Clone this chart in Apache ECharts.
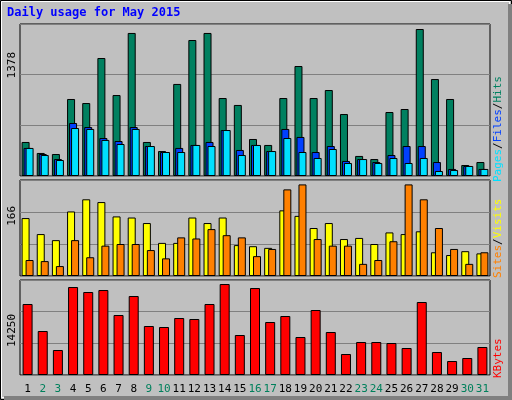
<!DOCTYPE html>
<html><head><meta charset="utf-8">
<script src="https://cdn.jsdelivr.net/npm/echarts@6/dist/echarts.min.js"></script>
<style>html,body{margin:0;padding:0;background:#c0c0c0}#c{width:512px;height:400px}</style>
</head><body><div id="c"></div>
<script>
const days=['1','2','3','4','5','6','7','8','9','10','11','12','13','14','15','16','17','18','19','20','21','22','23','24','25','26','27','28','29','30','31'];
const weekend=['2','3','9','10','16','17','23','24','30','31'];
const hits=[319,216,206,722,684,1106,759,1341,319,234,863,1275,1341,731,666,347,291,731,1031,731,806,581,188,159,600,628,1378,909,722,103,131];
const files=[263,206,159,497,459,356,328,459,281,225,263,291,319,431,244,291,234,441,366,225,281,141,159,131,197,281,281,131,66,94,66];
const pages=[263,197,150,450,441,338,300,441,281,225,225,291,281,431,197,291,234,356,225,169,253,122,159,122,169,122,169,47,56,94,66];
const visits=[105,76,65,117,139,134,108,106,96,60,60,106,96,106,56,54,51,119,109,87,96,67,69,58,79,76,81,43,38,45,41];
const sites=[29,27,18,65,34,55,58,58,47,32,70,68,85,74,70,36,49,157,166,67,55,55,22,29,63,166,139,87,49,22,43];
const kbytes=[11119,6890,3915,13781,12998,13311,9396,12371,7673,7517,8926,8770,11119,14250,6264,13624,8300,9239,5951,10179,6734,3289,5168,5168,5011,4228,11432,3602,2192,2662,4385];
const maxLabels=['1378','166','14250'];
const F='DejaVu Sans Mono';
const ch=echarts.init(document.getElementById('c'));
const grids=[{left:20,width:470,top:24,height:152},{left:20,width:470,top:180,height:96},{left:20,width:470,top:280,height:95}];
const maxes=[1425,174,14880];
const bs=c=>({color:c,borderColor:'#000',borderWidth:1});
ch.setOption({
 backgroundColor:'#c0c0c0',animation:false,
 grid:grids.map(g=>Object.assign({show:true,backgroundColor:'#c0c0c0',borderColor:'#000',borderWidth:1},g)),
 xAxis:[0,1,2].map(i=>({type:'category',gridIndex:i,data:days,axisTick:{show:false},axisLine:{show:false},
   axisLabel:{show:i===2,fontFamily:F,fontSize:11,margin:9,interval:0,color:(v)=>weekend.includes(v)?'#00805c':'#000'}})),
 yAxis:[0,1,2].map(i=>({type:'value',gridIndex:i,min:0,max:maxes[i],interval:maxes[i]/3,axisLabel:{show:false},axisLine:{show:false},axisTick:{show:false},splitLine:{lineStyle:{color:'#808080',width:1}}})),
 series:[
  {type:'bar',xAxisIndex:0,yAxisIndex:0,data:hits,barWidth:8,barGap:'-75%',itemStyle:bs('#008060')},
  {type:'bar',xAxisIndex:0,yAxisIndex:0,data:files,barWidth:8,barGap:'-75%',itemStyle:bs('#0040ff')},
  {type:'bar',xAxisIndex:0,yAxisIndex:0,data:pages,barWidth:8,barGap:'-75%',itemStyle:bs('#00e0ff')},
  {type:'bar',xAxisIndex:1,yAxisIndex:1,data:visits,barWidth:8,barGap:'-50%',itemStyle:bs('#ffff00')},
  {type:'bar',xAxisIndex:1,yAxisIndex:1,data:sites,barWidth:8,barGap:'-50%',itemStyle:bs('#ff8000')},
  {type:'bar',xAxisIndex:2,yAxisIndex:2,data:kbytes,barWidth:10,itemStyle:bs('#ff0000')}
 ],
 graphic:[
  {type:'rect',shape:{x:0.5,y:0.5,width:511,height:399},style:{fill:'none',stroke:'#000',lineWidth:1}},
  {type:'rect',shape:{x:1.5,y:1.5,width:508,height:396},style:{fill:'none',stroke:'#fff',lineWidth:1}},
  {type:'rect',shape:{x:4,y:396,width:508,height:4},style:{fill:'#808080'}},
  {type:'rect',shape:{x:508,y:4,width:4,height:396},style:{fill:'#808080'}},
  {type:'text',left:7,top:7,style:{text:'Daily usage for May 2015',fill:'#0000ff',font:'bold 12px '+F}},
  {type:'text',x:7,y:52,rotation:Math.PI/2,style:{text:maxLabels[0],fill:'#000',font:'11px '+F,align:'right',verticalAlign:'top'}},
  {type:'text',x:7,y:206,rotation:Math.PI/2,style:{text:maxLabels[1],fill:'#000',font:'11px '+F,align:'right',verticalAlign:'top'}},
  {type:'text',x:7,y:314,rotation:Math.PI/2,style:{text:maxLabels[2],fill:'#000',font:'11px '+F,align:'right',verticalAlign:'top'}},
  {type:'text',x:493,y:182,rotation:Math.PI/2,style:{text:'{a|Pages}{s|/}{b|Files}{s|/}{c|Hits}',verticalAlign:'top',font:'11px '+F,
    rich:{a:{fill:'#00e0ff',font:'11px '+F},b:{fill:'#0040ff',font:'11px '+F},c:{fill:'#008060',font:'11px '+F},s:{fill:'#000',font:'11px '+F}}}},
  {type:'text',x:493,y:278,rotation:Math.PI/2,style:{text:'{a|Sites}{s|/}{b|Visits}',verticalAlign:'top',font:'11px '+F,
    rich:{a:{fill:'#ff8000',font:'11px '+F},b:{fill:'#ffff00',font:'11px '+F},s:{fill:'#000',font:'11px '+F}}}},
  {type:'text',x:493,y:378,rotation:Math.PI/2,style:{text:'KBytes',fill:'#ff0000',verticalAlign:'top',font:'11px '+F}}
 ]
});
</script></body></html>
